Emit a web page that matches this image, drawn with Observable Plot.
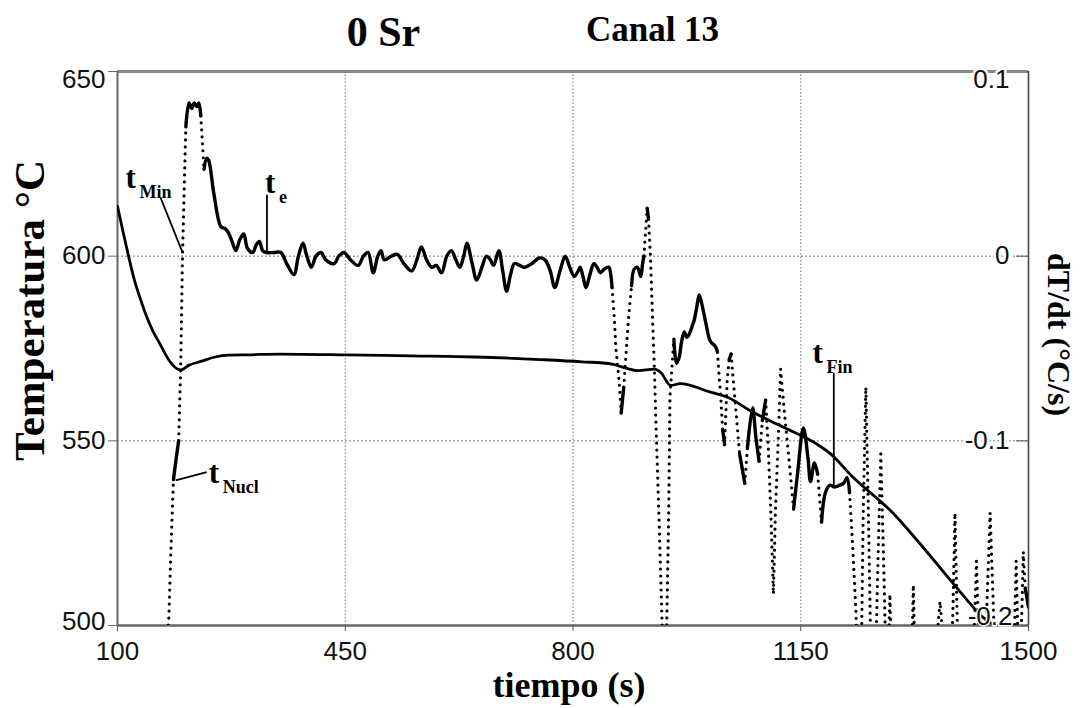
<!DOCTYPE html>
<html><head><meta charset="utf-8">
<script src="https://cdn.jsdelivr.net/npm/d3@7"></script>
<script src="https://cdn.jsdelivr.net/npm/@observablehq/plot@0.6"></script>
<style>body{margin:0;background:#fff} svg{display:block}</style>
</head><body><div id="chart"></div>
<script>
// ---- data ----
const tempTime  = [100,108,117,126,135,145,155,166,175,185,197,210,228,250,270,300,350,450,550,650,750,814,860,875,900,925,935,950,965,1009,1040,1071,1122,1173,1195,1230,1292,1333,1380,1410,1425,1448];
const tempValue = [613.5,607,600,593.5,588.5,583.5,579.5,576,573,570.5,569.2,570.5,571.5,572.7,573.2,573.3,573.5,573.3,573,572.7,572,571.4,570.8,570,569,569.4,568.5,565,565.5,563.3,561.6,558.3,553.8,549.3,546.6,540.2,530.4,522.2,512.3,506,503,500];

const dtTime = [172,179,182,186,190,194,197,200,205,210,214,218,222,225,228,233,237,240,248,259,265,270,276,282,288,294,300,308,313,318,323,328,340,351,360,371,378,385,391,398,405,413,420,433,440,448,458,470,478,485,493,500,505,510,521,530,540,552,560,567,575,583,590,598,606,613,620,626,632,637,645,652,660,667,673,678,686,692,698,704,710,718,726,737,748,757,765,772,780,788,795,802,808,811,816,820,826,832,837,842,848,855,858,860,863,866,871,874,878,882,886,890,894,899,904,907,909,912,914,916,919,922,925,927,932,937,941,944,947,949,955,959,963,967,971,975,979,983,986,990,994,998,1004,1011,1019,1022,1025,1027,1030,1033,1037,1040,1043,1046,1050,1056,1064,1068,1076,1081,1086,1091,1096,1100,1104,1108,1111,1116,1119,1125,1133,1139,1145,1154,1161,1165,1171,1176,1182,1188,1195,1202,1210,1216,1221,1225,1230,1235,1239,1243,1246,1250,1254,1258,1261,1265,1269,1273,1277,1281,1283,1285,1287,1289,1293,1318,1321,1323,1325,1330,1356,1360,1364,1368,1373,1380,1384,1387,1390,1394,1412,1416,1420,1424,1428,1432,1436,1441,1446,1450,1474,1478,1481,1484,1487,1490,1492,1495,1500];
const dtValue = [-0.23,-0.195,-0.16,-0.121,-0.11,-0.1,-0.062,0.002,0.07,0.083,0.08,0.083,0.081,0.083,0.076,0.047,0.053,0.052,0.034,0.016,0.015,0.013,0.008,0.003,0.009,0.012,0.004,0.002,0.006,0.008,0.003,0.002,0.002,0.002,-0.004,-0.01,0,0.007,0,-0.006,0,0.002,-0.002,-0.004,0,0.002,-0.002,-0.005,0,0.002,-0.009,0,0.003,-0.002,0,0.001,-0.004,-0.008,-0.002,0.005,-0.002,-0.006,-0.005,-0.009,0,0.003,-0.002,-0.006,0,0.007,-0.004,-0.013,-0.006,0,-0.002,-0.005,0.003,-0.008,-0.019,-0.01,-0.004,-0.005,-0.006,-0.004,-0.001,-0.002,-0.008,-0.017,-0.008,0,-0.006,-0.011,-0.008,-0.006,-0.012,-0.017,-0.01,-0.004,-0.006,-0.009,-0.007,-0.006,-0.01,-0.017,-0.031,-0.05,-0.068,-0.085,-0.071,-0.05,-0.031,-0.016,-0.007,-0.006,-0.011,-0.004,0,0.016,0.026,0.02,0,-0.031,-0.06,-0.085,-0.14,-0.2,-0.23,-0.2,-0.14,-0.076,-0.045,-0.058,-0.055,-0.046,-0.041,-0.044,-0.042,-0.038,-0.035,-0.028,-0.021,-0.026,-0.036,-0.046,-0.049,-0.052,-0.067,-0.076,-0.094,-0.102,-0.067,-0.056,-0.053,-0.066,-0.082,-0.107,-0.123,-0.104,-0.082,-0.098,-0.111,-0.089,-0.078,-0.103,-0.139,-0.183,-0.139,-0.094,-0.061,-0.085,-0.114,-0.137,-0.118,-0.093,-0.109,-0.122,-0.112,-0.118,-0.144,-0.128,-0.124,-0.125,-0.124,-0.123,-0.12,-0.128,-0.158,-0.194,-0.26,-0.22,-0.14,-0.071,-0.14,-0.22,-0.26,-0.22,-0.16,-0.107,-0.16,-0.22,-0.25,-0.21,-0.183,-0.21,-0.26,-0.26,-0.21,-0.178,-0.21,-0.26,-0.26,-0.204,-0.187,-0.204,-0.26,-0.24,-0.19,-0.139,-0.19,-0.24,-0.26,-0.21,-0.165,-0.21,-0.26,-0.24,-0.19,-0.139,-0.19,-0.24,-0.26,-0.21,-0.165,-0.21,-0.22,-0.19,-0.16,-0.18,-0.19];

const xTicks  = [100, 450, 800, 1150, 1500];
const yTicks  = [500, 550, 600, 650];
const dtTicks = [-0.2, -0.1, 0, 0.1];

// annotations (t label anchor + leader line ends), in data units
const annSub      = ["Min", "e", "Nucl", "Fin"];
const annTime     = [112.3, 326.6, 240.3, 1168];
const annTemp     = [618.5, 617.2, 538.5, 571.1];
const leadTime1   = [166.3, 329.7, 189.4, 1200.8];
const leadTemp1   = [615.8, 616.6, 539.3, 568.4];
const leadTime2   = [200.2, 329.7, 237, 1200.8];
const leadTemp2   = [600.9, 600.9, 541.5, 538];

// right axis (dT/dt) aligned with left: 0 <-> 600 °C, 0.1 <-> 650 °C
const toTemp = v => 600 + 500 * v;

const W = 1081, H = 708, mL = 117, mR = 53, mT = 71, mB = 83;
const serif = "'Liberation Serif', 'Times New Roman', serif";
const sans = "'Liberation Sans', Arial, sans-serif";

const temp = tempTime.map((t, i) => ({t, T: tempValue[i]}));
const deriv = dtTime.map((t, i) => ({t, T: toTemp(dtValue[i])}));
const sx = d3.scaleLinear([100, 1500], [mL, W - mR]);
const sy = d3.scaleLinear([500, 650], [H - mB, mT]);
// dense sampling looks solid; steep stretches show separate dots
const segs = d3.pairs(deriv).map(([a, b]) => {
  const dy = Math.abs(sy(b.T) - sy(a.T)), dx = Math.abs(sx(b.t) - sx(a.t));
  return {a, b, steep: dy > 15 && dy > 10 * dx};
});
const runs = [];
segs.forEach(s => {
  const last = runs[runs.length - 1];
  if (!last || last.steep !== s.steep) runs.push({steep: s.steep, pts: [s.a, s.b]});
  else last.pts.push(s.b);
});
const solidPts = runs.filter(r => !r.steep).flatMap((r, k) => r.pts.map(p => ({...p, run: k})));
const dotPts = runs.filter(r => r.steep).flatMap((r, k) => r.pts.map(p => ({...p, run: k})));

const ann = annSub.map((s, i) => ({s, t: annTime[i], T: annTemp[i],
  t1: leadTime1[i], T1: leadTemp1[i], t2: leadTime2[i], T2: leadTemp2[i]}));

const labelStyle = {fontSize: 26, fill: "#111", fontFamily: sans, stroke: "white", strokeWidth: 5};

const chart = Plot.plot({
  width: W, height: H,
  marginLeft: mL, marginRight: mR, marginTop: mT, marginBottom: mB,
  x: {domain: [100, 1500]},
  y: {domain: [500, 650]},
  style: {fontFamily: sans, background: "white", color: "#111"},
  marks: [
    Plot.gridX(xTicks.slice(1, -1), {stroke: "#777", strokeOpacity: 1, strokeDasharray: "1.5 2"}),
    Plot.gridY([550, 600], {stroke: "#777", strokeOpacity: 1, strokeDasharray: "2 2"}),
    Plot.axisX(xTicks, {anchor: "bottom", tickSize: 6, tickPadding: 10, fontSize: 26, tickFormat: d => String(d), stroke: "#555", label: null}),
    Plot.axisY(yTicks, {anchor: "left", tickSize: 9, tickFormat: () => "", stroke: "#666", label: null}),
    Plot.axisY(yTicks, {anchor: "right", tickSize: -13, tickFormat: () => "", stroke: "#555", label: null}),
    Plot.ruleY([650], {stroke: "#888", strokeWidth: 3}),
    Plot.ruleY([500], {stroke: "#666", strokeWidth: 2.5}),
    Plot.ruleX([100], {stroke: "#666", strokeWidth: 2}),
    Plot.ruleX([1500], {stroke: "#444", strokeWidth: 1.6}),
    // temperature
    Plot.line(temp, {x: "t", y: "T", stroke: "black", strokeWidth: 2.8, curve: "monotone-x", clip: true}),
    // derivative
    Plot.line(solidPts, {x: "t", y: "T", z: "run", stroke: "black", strokeWidth: 3.4, curve: "catmull-rom", strokeLinecap: "round", strokeLinejoin: "round", clip: true}),
    Plot.line(dotPts, {x: "t", y: "T", z: "run", stroke: "black", strokeWidth: 3.2, strokeDasharray: "0 7", strokeLinecap: "round", clip: true}),
    // annotations
    Plot.link(ann, {x1: "t1", y1: "T1", x2: "t2", y2: "T2", stroke: "black", strokeWidth: 1.8}),
    Plot.text(ann, {x: "t", y: "T", text: () => "t", textAnchor: "start", lineAnchor: "bottom", fontSize: 31, fontWeight: "bold", fontFamily: serif, fill: "black"}),
    Plot.text(ann, {x: "t", y: "T", text: "s", dx: 14, dy: 10, textAnchor: "start", lineAnchor: "bottom", fontSize: 18, fontWeight: "bold", fontFamily: serif, fill: "black"}),
    // left tick labels (end ones kept inside the frame)
    Plot.text([650], {y: d => d, text: d => String(d), frameAnchor: "left", dx: -12, textAnchor: "end", lineAnchor: "top", dy: -2, ...labelStyle}),
    Plot.text([550, 600], {y: d => d, text: d => String(d), frameAnchor: "left", dx: -12, textAnchor: "end", lineAnchor: "middle", ...labelStyle}),
    Plot.text([500], {y: d => d, text: d => String(d), frameAnchor: "left", dx: -12, textAnchor: "end", lineAnchor: "bottom", dy: 4, ...labelStyle}),
    // right tick labels (inside the frame)
    Plot.text([0.1], {y: d => toTemp(d), text: d => String(d), frameAnchor: "right", dx: -19, textAnchor: "end", lineAnchor: "top", dy: -2, ...labelStyle}),
    Plot.text([-0.1, 0], {y: d => toTemp(d), text: d => String(d), frameAnchor: "right", dx: -19, textAnchor: "end", lineAnchor: "middle", ...labelStyle}),
    Plot.text([-0.2], {y: d => toTemp(d), text: d => String(d), frameAnchor: "right", dx: -16, textAnchor: "end", lineAnchor: "bottom", dy: -1, ...labelStyle, strokeWidth: 3}),
    // titles and axis labels
    Plot.text(["0 Sr"], {text: d => d, frameAnchor: "top-left", dx: 266, dy: -26, textAnchor: "middle", lineAnchor: "bottom", fontSize: 42, fontWeight: "bold", fontFamily: serif, fill: "black"}),
    Plot.text(["Canal 13"], {text: d => d, frameAnchor: "top-left", dx: 535, dy: -31, textAnchor: "middle", lineAnchor: "bottom", fontSize: 35, fontWeight: "bold", fontFamily: serif, fill: "black"}),
    Plot.text(["Temperatura °C"], {text: d => d, frameAnchor: "left", dx: -87, dy: -38, rotate: -90, textAnchor: "middle", lineAnchor: "middle", fontSize: 43, fontWeight: "bold", fontFamily: serif, fill: "black"}),
    Plot.text(["dT/dt (°C/s)"], {text: d => d, frameAnchor: "right", dx: 30, dy: -14, rotate: 90, textAnchor: "middle", lineAnchor: "middle", fontSize: 32, fontWeight: "bold", fontFamily: serif, fill: "black"}),
    Plot.text(["tiempo (s)"], {text: d => d, frameAnchor: "bottom", dx: -4, dy: 60, textAnchor: "middle", lineAnchor: "middle", fontSize: 36, fontWeight: "bold", fontFamily: serif, fill: "black"})
  ]
});
document.getElementById("chart").append(chart);
</script>
</body></html>
